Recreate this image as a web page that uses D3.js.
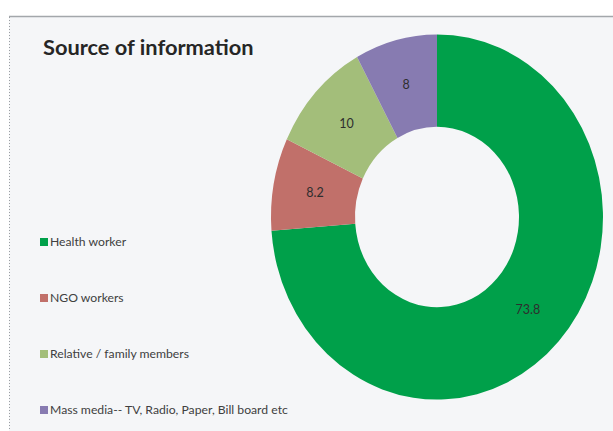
<!DOCTYPE html>
<html>
<head>
  <meta charset="utf-8">
  <title>Source of information</title>
  <style>
    body { margin: 0; background: #fff; }
    text { font-family: Lato, "Open Sans", sans-serif; }
  </style>
</head>
<body>
  <svg width="613" height="431"></svg>
  <script src="https://d3js.org/d3.v7.min.js"></script>
  <script>
  // data
  var categories = ["Health worker", "NGO workers", "Relative / family members", "Mass media-- TV, Radio, Paper, Bill board etc"];
  var values = [73.8, 8.2, 10, 8];
  var labels = ["73.8", "8.2", "10", "8"];
  var colors = ["#00a04a", "#c1706a", "#a3be7a", "#877bb1"];

  var svg = d3.select("svg");

  // frame
  svg.append("rect").attr("x", 9).attr("y", 16).attr("width", 610).attr("height", 420)
    .attr("fill", "#f5f6f8");
  svg.append("line").attr("x1", 9).attr("x2", 613).attr("y1", 16.5).attr("y2", 16.5)
    .attr("stroke", "#a3a7ab").attr("stroke-width", 1.5);
  svg.append("line").attr("x1", 9.5).attr("x2", 9.5).attr("y1", 17).attr("y2", 431)
    .attr("stroke", "#9a9ea2").attr("stroke-width", 1).attr("stroke-dasharray", "1,2");

  // title
  svg.append("text").attr("x", 43).attr("y", 55)
    .attr("font-size", 21.8).attr("font-weight", "bold").attr("fill", "#262626")
    .text("Source of information");

  // donut
  var cx = 437, cy = 217, sy = 1.1;
  var pie = d3.pie().sort(null).value(function(d) { return d; });
  var arc = d3.arc().innerRadius(82).outerRadius(166);
  var arcs = pie(values);

  var g = svg.append("g").attr("transform", "translate(" + cx + "," + cy + ") scale(1," + sy + ")");
  g.selectAll("path").data(arcs).enter().append("path")
    .attr("d", arc)
    .attr("fill", function(d, i) { return colors[i]; });

  svg.selectAll("text.val").data(arcs).enter().append("text")
    .attr("class", "val")
    .attr("x", function(d) { return cx + arc.centroid(d)[0]; })
    .attr("y", function(d) { return cy + arc.centroid(d)[1] * sy; })
    .attr("dy", "0.35em")
    .attr("text-anchor", "middle")
    .attr("font-size", 12.5).attr("fill", "#2e2e2e")
    .text(function(d, i) { return labels[i]; });

  // legend
  var ly = d3.scalePoint().domain(categories).range([242, 410]);
  var leg = svg.selectAll("g.leg").data(categories).enter().append("g")
    .attr("class", "leg")
    .attr("transform", function(d) { return "translate(40," + ly(d) + ")"; });
  leg.append("rect").attr("x", 0).attr("y", -4).attr("width", 8).attr("height", 8)
    .attr("fill", function(d, i) { return colors[i]; });
  leg.append("text").attr("x", 10).attr("dy", "0.35em")
    .attr("font-size", 12.2).attr("fill", "#404040")
    .text(function(d) { return d; });
  </script>
</body>
</html>
